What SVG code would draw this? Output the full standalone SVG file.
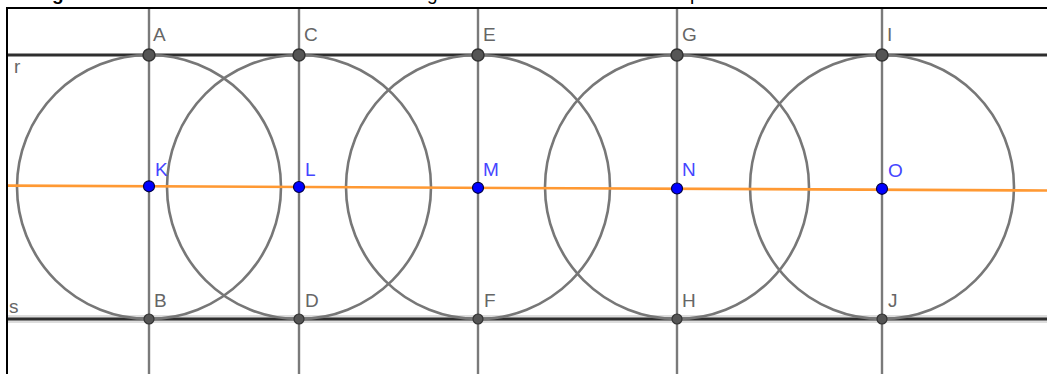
<svg xmlns="http://www.w3.org/2000/svg" width="1047" height="374" viewBox="0 0 1047 374">
<style>
.frame{stroke:#000;stroke-width:2;fill:none}
.hline{stroke:#2e2e2e;stroke-width:2.8;fill:none}
.halo{stroke:#cfcfcf;stroke-width:8;fill:none;opacity:0.7}
.vline{stroke:#7a7a7a;stroke-width:2.4;fill:none}
.circ{stroke:#777;stroke-width:2.6;fill:none}
.orange{stroke:#ff9933;stroke-width:2.6;fill:none}
.pt{fill:#555;stroke:#333;stroke-width:1.5}
.pb{fill:#555;stroke:#333;stroke-width:1.2}
.pblue{fill:#0000ff;stroke:#000044;stroke-width:1.2}
.lab{font-family:"Liberation Sans",Arial,sans-serif;font-size:19px;fill:#666}
.labb{font-family:"Liberation Sans",Arial,sans-serif;font-size:19px;fill:#4545ff}
.cap{font-family:"Liberation Sans",Arial,sans-serif;font-size:19px;fill:#000}
</style>
<rect width="1047" height="374" fill="#fff"/>
<g id="caption">
<text class="cap" x="52" y="0" font-weight="bold">g</text>
<text class="cap" x="427" y="0">g</text>
<text class="cap" x="690" y="0">p</text>
</g>
<g id="frame">
<path class="frame" d="M7,374 V8 H1047"/>
</g>
<g id="connectors">
<line class="halo" x1="8" y1="319" x2="1047" y2="319"/>
<line class="hline" x1="8" y1="55" x2="1047" y2="55"/>
<line class="hline" x1="8" y1="319" x2="1047" y2="319"/>
<line class="vline" x1="149" y1="9" x2="149" y2="374"/>
<line class="vline" x1="299" y1="9" x2="299" y2="374"/>
<line class="vline" x1="478" y1="9" x2="478" y2="374"/>
<line class="vline" x1="677" y1="9" x2="677" y2="374"/>
<line class="vline" x1="882" y1="9" x2="882" y2="374"/>
<circle class="circ" cx="149" cy="187" r="132"/>
<circle class="circ" cx="299" cy="187" r="132"/>
<circle class="circ" cx="478" cy="187" r="132"/>
<circle class="circ" cx="677" cy="187" r="132"/>
<circle class="circ" cx="882" cy="187" r="132"/>
<line class="orange" x1="8" y1="185.6" x2="1047" y2="190.5"/>
</g>
<g id="line-r"><text class="lab" x="14" y="73">r</text></g>
<g id="line-s"><text class="lab" x="9" y="313">s</text></g>
<g id="A"><circle class="pt" cx="149" cy="55" r="6"/><text class="lab" x="153" y="41">A</text></g>
<g id="C"><circle class="pt" cx="299" cy="55" r="6"/><text class="lab" x="304" y="41">C</text></g>
<g id="E"><circle class="pt" cx="478" cy="55" r="6"/><text class="lab" x="483" y="41">E</text></g>
<g id="G"><circle class="pt" cx="677" cy="55" r="6"/><text class="lab" x="682" y="41">G</text></g>
<g id="I"><circle class="pt" cx="882" cy="55" r="6" fill="#444"/><text class="lab" x="887" y="41">I</text></g>
<g id="B"><circle class="pb" cx="149" cy="319" r="5"/><text class="lab" x="154" y="307">B</text></g>
<g id="D"><circle class="pb" cx="299" cy="319" r="5"/><text class="lab" x="305" y="307">D</text></g>
<g id="F"><circle class="pb" cx="478" cy="319" r="5"/><text class="lab" x="484" y="307">F</text></g>
<g id="H"><circle class="pb" cx="677" cy="319" r="5"/><text class="lab" x="682" y="307">H</text></g>
<g id="J"><circle class="pb" cx="882" cy="319" r="5"/><text class="lab" x="888" y="307">J</text></g>
<g id="K"><circle class="pblue" cx="149" cy="186.3" r="5.5"/><text class="labb" x="155" y="176">K</text></g>
<g id="L"><circle class="pblue" cx="299" cy="187" r="5.5"/><text class="labb" x="305" y="176">L</text></g>
<g id="M"><circle class="pblue" cx="478" cy="187.8" r="5.5"/><text class="labb" x="483" y="176">M</text></g>
<g id="N"><circle class="pblue" cx="677" cy="188.5" r="5.5"/><text class="labb" x="682" y="176">N</text></g>
<g id="O"><circle class="pblue" cx="882" cy="188.8" r="5.5"/><text class="labb" x="888" y="177">O</text></g>
</svg>
